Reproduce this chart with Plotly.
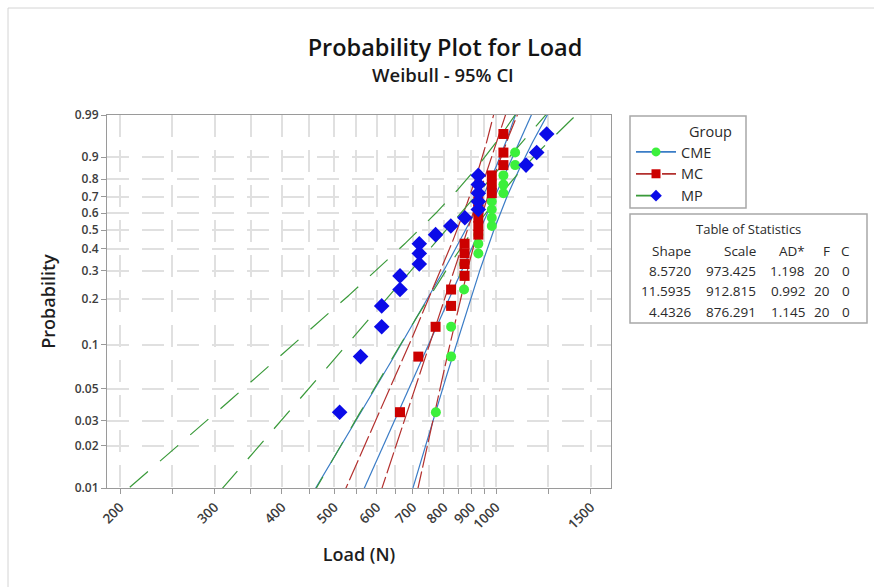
import numpy as np
import plotly.graph_objects as go

# ---------------- data ----------------
groups = ["CME", "MC", "MP"]
shape_par = [8.5720, 11.5935, 4.4326]
scale_par = [973.425, 912.815, 876.291]
ad_stat = ["1.198", "0.992", "1.145"]
f_count = [20, 20, 20]
c_count = [0, 0, 0]

load_cme = [773, 825, 825, 825, 872, 872, 872, 927, 927, 927,
            982, 982, 982, 982, 1032, 1032, 1032, 1085, 1085, 1240]
load_mc = [663, 717, 772, 825, 825, 874, 874, 874, 874, 927,
           927, 927, 927, 927, 982, 982, 982, 1032, 1032, 1032]
load_mp = [512, 560, 613, 613, 663, 663, 720, 720, 720, 772,
           824, 875, 927, 927, 927, 927, 927, 1137, 1190, 1242]
loads = [load_cme, load_mc, load_mp]

prob_ticks = [0.01, 0.02, 0.03, 0.05, 0.1, 0.2, 0.3, 0.4, 0.5, 0.6, 0.7, 0.8, 0.9, 0.99]
prob_labels = ["0.01", "0.02", "0.03", "0.05", "0.1", "0.2", "0.3", "0.4", "0.5",
               "0.6", "0.7", "0.8", "0.9", "0.99"]
x_tick_vals = [200, 250, 300, 350, 400, 450, 500, 550, 600, 650, 700, 750, 800,
               850, 900, 950, 1000, 1250, 1500]
x_labeled = [200, 300, 400, 500, 600, 700, 800, 900, 1000, 1500]

# ---------------- styles ----------------
line_colors = ["#3a7cc6", "#b3302e", "#3a9a3a"]
line_dash = ["solid", "22px,4px", "24px,16px"]
marker_colors = ["#3cf03c", "#cc0000", "#0b0be8"]
marker_symbols = ["circle", "square", "diamond"]
marker_sizes = [10, 10, 12]
FONT = "Open Sans"

def weib(p):
    p = np.asarray(p, dtype=float)
    return np.log(-np.log(1.0 - p))

# pixel geometry of plot area
L, R, T, B = 107, 611, 115, 488
W_FIG, H_FIG = 874, 587
def px_x(px):
    return (px - L) / (R - L)
def px_y(py):
    return (B - py) / (B - T)

fig = go.Figure()

# fitted lines and 95% CI
pgrid = np.concatenate([np.linspace(0.0005, 0.02, 60), np.linspace(0.02, 0.9995, 300)])
wg = weib(pgrid)
for k in range(3):
    n = len(loads[k])
    b = 1.0 / shape_par[k]
    mu = np.log(scale_par[k])
    yp = mu + wg * b
    se = b * np.sqrt((1.1087 - 2 * 0.2570 * wg + 0.6079 * wg ** 2) / n)
    for xs in (np.exp(yp - 1.96 * se), np.exp(yp), np.exp(yp + 1.96 * se)):
        fig.add_trace(go.Scatter(x=xs, y=wg, mode="lines", showlegend=False,
                                 hoverinfo="skip",
                                 line=dict(color=line_colors[k], width=1.2, dash=line_dash[k])))

# data points (median ranks)
for k in range(3):
    vals = np.sort(np.array(loads[k], dtype=float))
    n = len(vals)
    i = np.arange(1, n + 1)
    p = (i - 0.3) / (n + 0.4)
    fig.add_trace(go.Scatter(x=vals, y=weib(p), mode="markers", showlegend=False,
                             marker=dict(color=marker_colors[k], symbol=marker_symbols[k],
                                         size=marker_sizes[k], line=dict(width=0))))

# legend entries
for k in range(3):
    fig.add_trace(go.Scatter(x=[None], y=[None], mode="lines+markers", name=groups[k],
                             line=dict(color=line_colors[k], width=1.8, dash=line_dash[k]),
                             marker=dict(color=marker_colors[k], symbol=marker_symbols[k],
                                         size=9)))

x_text = [str(v) if v in x_labeled else "" for v in x_tick_vals]
x_tick_font = dict(family=FONT, size=13.5, color="#3c3c3c", weight=600)
y_tick_font = dict(family=FONT, size=12, color="#3c3c3c", weight=600)
axis_title_font = dict(family=FONT, size=18, color="#1e1e1e", weight=600)

fig.update_xaxes(type="log", range=[np.log10(200) - 13 / 538, np.log10(200) + 491 / 538],
                 tickmode="array", tickvals=x_tick_vals, ticktext=x_text, tickangle=-45,
                 ticks="outside", ticklen=5, tickcolor="#9a9a9a",
                 showline=True, linecolor="#9a9a9a", linewidth=1, mirror=True,
                 showgrid=True, gridcolor="#e0e0e0", gridwidth=2, griddash="22px,13px",
                 zeroline=False, tickfont=x_tick_font,
                 title=dict(text="Load (N)", font=axis_title_font, standoff=16))
fig.update_yaxes(range=[float(weib(0.01)), float(weib(0.99))],
                 tickmode="array", tickvals=[float(v) for v in weib(prob_ticks)],
                 ticktext=prob_labels,
                 ticks="outside", ticklen=5, tickcolor="#9a9a9a",
                 showline=True, linecolor="#9a9a9a", linewidth=1, mirror=True,
                 showgrid=True, gridcolor="#e0e0e0", gridwidth=2, griddash="22px,13px",
                 zeroline=False, tickfont=y_tick_font,
                 title=dict(text="Probability", font=axis_title_font, standoff=14))

shapes = []
# outer frame
shapes.append(dict(type="rect", xref="paper", yref="paper",
                   x0=px_x(8), x1=px_x(W_FIG + 5), y0=px_y(H_FIG + 5), y1=px_y(8),
                   line=dict(color="#d4d4d4", width=1), layer="below"))
# legend box
shapes.append(dict(type="rect", xref="paper", yref="paper",
                   x0=px_x(630), x1=px_x(746), y0=px_y(208), y1=px_y(116),
                   line=dict(color="#a8a8a8", width=1.5)))
# table box
shapes.append(dict(type="rect", xref="paper", yref="paper",
                   x0=px_x(630), x1=px_x(867), y0=px_y(323), y1=px_y(214),
                   line=dict(color="#a8a8a8", width=1.5)))

ann = []
def add_text(txt, px, py, anchor="right", size=13.5, color="#2a2a2a", weight=400):
    ann.append(dict(text=txt, x=px_x(px), y=px_y(py), xref="paper", yref="paper",
                    xanchor=anchor, yanchor="middle", showarrow=False,
                    font=dict(family=FONT, size=size, color=color, weight=weight)))

add_text("Weibull - 95% CI", 443, 75, anchor="center", size=18.5, color="#1a1a1a", weight=600)
add_text("Group", 687, 131, anchor="left", size=14.5)
add_text("Table of Statistics", 748, 229, anchor="center", size=13)
col_x = [693, 758, 807, 832, 852]
headers = ["Shape", "Scale", "AD*", "F", "C"]
for h, cx in zip(headers, col_x):
    add_text(h, cx, 251, size=13.5)
row_y = [271, 291, 312]
for k in range(3):
    cells = ["%.4f" % shape_par[k], "%.3f" % scale_par[k], ad_stat[k],
             str(f_count[k]), str(c_count[k])]
    for c, cx in zip(cells, col_x):
        add_text(c, cx, row_y[k], size=13.5)

fig.update_layout(
    width=W_FIG, height=H_FIG,
    margin=dict(l=L, r=W_FIG - R, t=T, b=H_FIG - B, autoexpand=False),
    paper_bgcolor="white", plot_bgcolor="white",
    font=dict(family=FONT, color="#2a2a2a"),
    title=dict(text="Probability Plot for Load", x=445 / W_FIG, xanchor="center",
               y=1 - 48 / H_FIG, yanchor="middle", xref="container", yref="container",
               font=dict(family=FONT, size=23.5, color="#141414", weight=600)),
    legend=dict(x=px_x(631), y=px_y(136), xanchor="left", yanchor="top",
                bgcolor="rgba(0,0,0,0)", borderwidth=0,
                font=dict(family=FONT, size=14.5, color="#2a2a2a"),
                tracegroupgap=0, itemwidth=40),
    shapes=shapes, annotations=ann,
    showlegend=True,
)

fig.write_html("out.html")
